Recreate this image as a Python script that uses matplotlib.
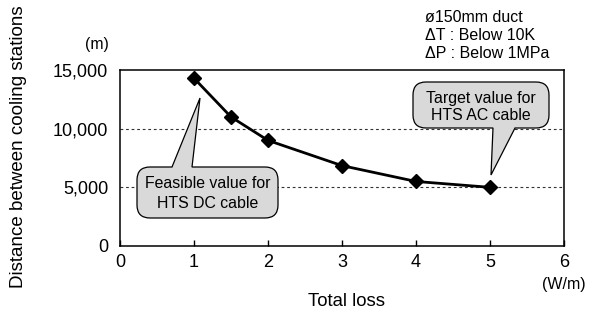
import matplotlib
matplotlib.use("Agg")
import matplotlib.pyplot as plt
from matplotlib.path import Path
from matplotlib.patches import PathPatch
from matplotlib.transforms import Affine2D

plt.rcParams['font.family'] = ['Liberation Sans', 'DejaVu Sans']

total_loss = [1, 1.5, 2, 3, 4, 5]
distance = [14300, 11000, 9000, 6850, 5500, 5000]
x_ticks = [0, 1, 2, 3, 4, 5, 6]
y_ticks = [0, 5000, 10000, 15000]
y_tick_labels = ["0", "5,000", "10,000", "15,000"]

W, H = 600, 313
fig = plt.figure(figsize=(6.0, 3.13), dpi=100)
ax = fig.add_axes([120 / W, 1 - 246 / H, 444 / W, 176 / H])

ax.set_xlim(0, 6)
ax.set_ylim(0, 15000)
ax.set_xticks(x_ticks)
ax.set_xticklabels([str(t) for t in x_ticks], fontsize=13)
ax.set_yticks(y_ticks)
ax.set_yticklabels(y_tick_labels, fontsize=13)
ax.tick_params(axis='x', direction='in', length=4, width=1, pad=6)
ax.tick_params(axis='y', length=0, pad=8.5)
for s in ax.spines.values():
    s.set_linewidth(1.1)

for yv in [5000, 10000]:
    ax.axhline(yv, color='#333333', lw=0.8, ls=(0, (2.5, 2.5)), zorder=1)

ax.plot(total_loss, distance, color='black', lw=2.0, marker='D', ms=7.5,
        mec='black', mfc='black', zorder=3, clip_on=False)

# pixel-coordinate transform for callouts
pix = Affine2D().scale(1 / W, -1 / H).translate(0, 1) + fig.transFigure


def callout(x0, y0, x1, y1, r, side, b0, b1, tip):
    v = []
    c = []
    def M(p): v.append(p); c.append(Path.MOVETO)
    def L(p): v.append(p); c.append(Path.LINETO)
    def Q(ctrl, p): v.extend([ctrl, p]); c.extend([Path.CURVE3, Path.CURVE3])
    M((x0 + r, y0))
    if side == 'top':
        L((b0, y0)); L(tip); L((b1, y0))
    L((x1 - r, y0)); Q((x1, y0), (x1, y0 + r))
    L((x1, y1 - r)); Q((x1, y1), (x1 - r, y1))
    if side == 'bottom':
        L((b1, y1)); L(tip); L((b0, y1))
    L((x0 + r, y1)); Q((x0, y1), (x0, y1 - r))
    L((x0, y0 + r)); Q((x0, y0), (x0 + r, y0))
    v.append((0, 0)); c.append(Path.CLOSEPOLY)
    p = PathPatch(Path(v, c), facecolor='#d9d9d9', edgecolor='black', lw=0.9,
                  transform=pix, zorder=4, clip_on=False)
    fig.add_artist(p)

callout(137, 167, 278, 218, 13, 'top', 172, 192, (200, 98))
callout(413, 82, 549, 128, 13, 'bottom', 493, 515, (491, 175))

fs_call = 11.4
fig.text(207.5 / W, 1 - 184 / H, "Feasible value for", ha='center', va='center', fontsize=fs_call, zorder=5)
fig.text(207.5 / W, 1 - 203 / H, "HTS DC cable", ha='center', va='center', fontsize=fs_call, zorder=5)
fig.text(481 / W, 1 - 98 / H, "Target value for", ha='center', va='center', fontsize=fs_call, zorder=5)
fig.text(481 / W, 1 - 116 / H, "HTS AC cable", ha='center', va='center', fontsize=fs_call, zorder=5)

fig.text(425 / W, 1 - 17 / H, "ø150mm duct", ha='left', va='center', fontsize=11.5)
fig.text(425 / W, 1 - 35 / H, "ΔT : Below 10K", ha='left', va='center', fontsize=11.5)
fig.text(425 / W, 1 - 53 / H, "ΔP : Below 1MPa", ha='left', va='center', fontsize=11.5)

fig.text(97 / W, 1 - 45 / H, "(m)", ha='center', va='center', fontsize=11.3)
fig.text(564 / W, 1 - 285 / H, "(W/m)", ha='center', va='center', fontsize=11.5)
fig.text(347 / W, 1 - 301 / H, "Total loss", ha='center', va='center', fontsize=13.3)
fig.text(19 / W, 1 - 147 / H, "Distance between cooling stations", ha='center', va='center',
         rotation=90, fontsize=13.5)

fig.savefig("out.png", dpi=100)
